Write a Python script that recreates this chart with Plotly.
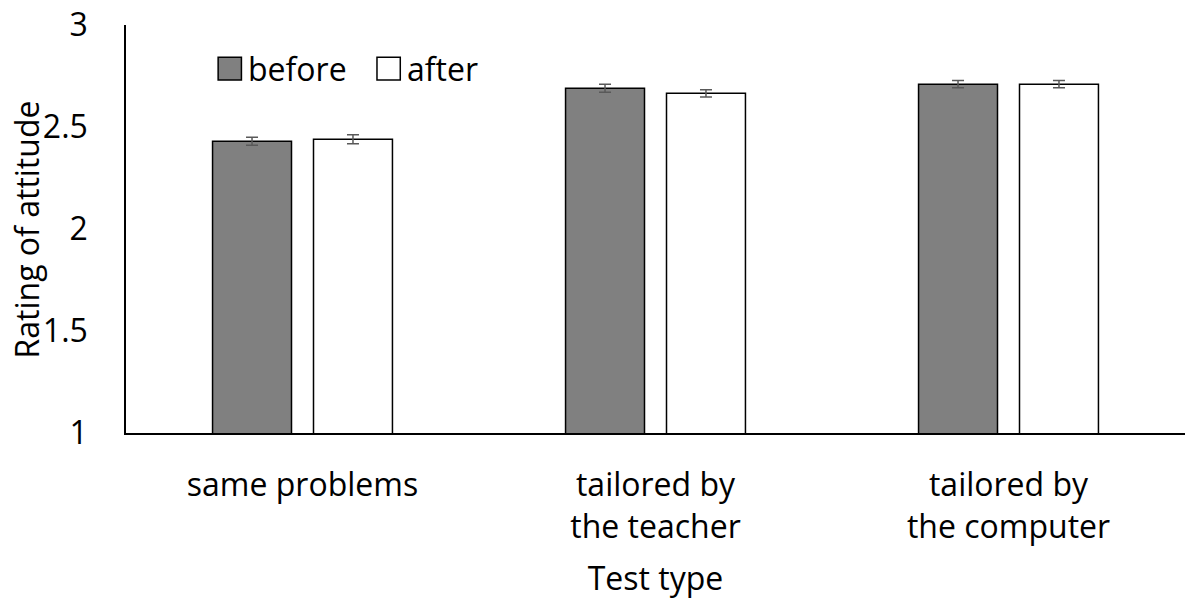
import plotly.graph_objects as go

categories = ["same problems", "tailored by<br>the teacher", "tailored by<br>the computer"]
before_vals = [2.43, 2.69, 2.71]
after_vals = [2.44, 2.665, 2.71]
before_err = [0.02, 0.02, 0.018]
after_err = [0.022, 0.018, 0.018]

FONT = "Open Sans"
SIZE = 32

fig = go.Figure()
fig.add_trace(go.Bar(
    x=categories, y=before_vals, name="before",
    marker=dict(color="#808080", line=dict(color="black", width=1.5)),
    error_y=dict(type="data", array=before_err, color="#595959", thickness=1.5, width=6),
))
fig.add_trace(go.Bar(
    x=categories, y=after_vals, name="after",
    marker=dict(color="white", line=dict(color="black", width=1.5)),
    error_y=dict(type="data", array=after_err, color="#595959", thickness=1.5, width=6),
))

# legend drawn by hand so the swatches match the large squares of the original
legend_items = [("before", "#808080", 0.087), ("after", "white", 0.237)]
for label, color, x0 in legend_items:
    fig.add_shape(type="rect", xref="paper", yref="paper",
                  x0=x0, x1=x0 + 0.022, y0=0.865, y1=0.921,
                  fillcolor=color, line=dict(color="black", width=1.5))
    fig.add_annotation(text=label, xref="paper", yref="paper",
                       x=x0 + 0.026, y=0.893, xanchor="left", yanchor="middle",
                       showarrow=False, font=dict(family=FONT, size=SIZE, color="black"))

# y title as a rotated annotation (axis title standoff is ignored without automargin)
fig.add_annotation(text="Rating of attitude", xref="paper", yref="paper",
                   x=-0.094, y=0.5, xanchor="center", yanchor="middle",
                   textangle=-90, showarrow=False,
                   font=dict(family=FONT, size=SIZE, color="black"))

fig.update_layout(
    width=1193, height=608,
    barmode="group", bargap=0.428, bargroupgap=0.218,
    plot_bgcolor="white", paper_bgcolor="white",
    showlegend=False,
    margin=dict(l=126, r=8, t=25, b=175),
    font=dict(family=FONT, size=SIZE, color="black"),
)
fig.update_xaxes(
    showline=True, linecolor="black", linewidth=1.5, ticks="",
    automargin=False, ticklabelstandoff=23,
    title=dict(text="Test type", standoff=22, font=dict(size=SIZE)),
)
fig.update_yaxes(
    range=[1, 3], tickvals=[1, 1.5, 2, 2.5, 3], ticktext=["1", "1.5", "2", "2.5", "3"],
    showline=True, linecolor="black", linewidth=1.5, showgrid=False, zeroline=False,
    automargin=False, ticks="outside", ticklen=30, tickcolor="white", tickwidth=1,
    ticklabeloverflow="allow",
)

# drop the default 8px body margin so the figure fills the window exactly
fig.write_html("out.html", config={"displayModeBar": False},
               post_script="document.body.style.margin='0';")
